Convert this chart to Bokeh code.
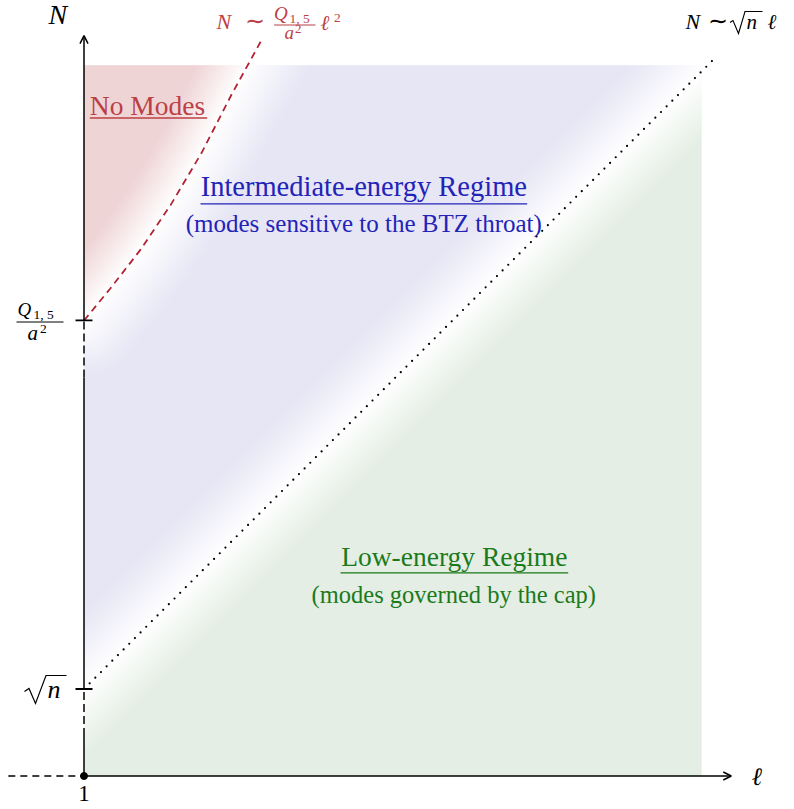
import numpy as np
from bokeh.plotting import figure
from bokeh.models import Range1d, Arrow, OpenHead
from bokeh.core.properties import value
from bokeh.embed import file_html
from bokeh.resources import INLINE

# ---------------- data (schematic units: ell horizontal, N vertical) ----------------
ell_axis = [1.0, 8.44]          # ell-axis, from ell = 1 to the arrow tip
N_axis = [0.0, 8.51]            # N-axis, up to the arrow tip
ell_left_dash = [0.13, 1.0]     # dashed continuation of the ell-axis to the left
tick_N = [1.0, 5.236]           # sqrt(n) and Q_{1,5}/a^2
axis_dash_N = [[0.46, 1.0], [4.58, 5.236]]   # dashed pieces of the N-axis below each tick
box_ell = [1.0, 8.10]           # shaded domain
box_N = [0.0, 8.17]
line_ell = [1.0, 8.28]          # N ~ sqrt(n) ell
line_N = [1.0, 8.28]
curve_ell = [1.0, 1.30, 1.65, 2.00, 2.35, 2.70, 3.03]   # N ~ Q/a^2 ell^2
curve_N = [5.236, 5.60, 6.05, 6.57, 7.16, 7.84, 8.44]

RED_FILL = (239, 212, 214)
BLUE_FILL = (230, 230, 245)
GREEN_FILL = (228, 238, 228)
RED_LINE = "#B22234"
RED_TXT = "#BC3F45"
BLUE_TXT = "#2323B8"
GREEN_TXT = "#1B7A1B"

# ---------------- page-pixel helpers (layout only) ----------------
S = 87.0
OX, OY = 83.5, 775.5


def X(px):
    return 1 + (px - OX) / S


def Y(py):
    return (OY - py) / S


W, H = 790, 806
p = figure(width=W, height=H, output_backend="svg", toolbar_location=None,
           x_range=Range1d(X(0), X(W)), y_range=Range1d(Y(H), Y(0)),
           x_axis_type=None, y_axis_type=None, min_border=0,
           min_border_left=0, min_border_right=0, min_border_top=0, min_border_bottom=0)
p.outline_line_color = None
p.background_fill_color = "white"
p.border_fill_color = "white"

# ---------------- shading ----------------
nx = int(round((box_ell[1] - box_ell[0]) * S))
ny = int(round((box_N[1] - box_N[0]) * S))
gx = box_ell[0] + (np.arange(nx) + 0.5) / S
gy = box_N[0] + (np.arange(ny) + 0.5) / S
LL, NN = np.meshgrid(gx, gy)

x0, x1 = line_ell
y0, y1 = line_N
dx, dy = x1 - x0, y1 - y0
d_line = ((LL - x0) * (-dy) + (NN - y0) * dx) / np.hypot(dx, dy) * S

cx = np.array(curve_ell)
cy = np.array(curve_N)
d_curve = np.full(LL.shape, np.inf)
for k in range(len(cx) - 1):
    ax_, ay_ = cx[k], cy[k]
    vx, vy = cx[k + 1] - ax_, cy[k + 1] - ay_
    t = np.clip(((LL - ax_) * vx + (NN - ay_) * vy) / (vx * vx + vy * vy), 0, 1)
    d_curve = np.minimum(d_curve, np.hypot(LL - ax_ - t * vx, NN - ay_ - t * vy))
d_curve *= S
left_of_curve = (NN >= cy[0]) & (LL < np.interp(NN, cy, cx))


def blend(c, t):
    return 255.0 + (np.array(c, dtype=float) - 255.0) * t[..., None]


t_g = np.clip(-d_line / 50.0, 0, 1)
t_b = np.minimum(np.clip(d_line / 55.0, 0, 1), np.clip(d_curve / 56.0, 0, 1))
t_r = np.clip(d_curve / 45.0, 0, 1)
rgb = np.where((d_line < 0)[..., None], blend(GREEN_FILL, t_g),
               np.where(left_of_curve[..., None], blend(RED_FILL, t_r), blend(BLUE_FILL, t_b)))
img = np.empty((ny, nx), dtype=np.uint32)
view = img.view(dtype=np.uint8).reshape((ny, nx, 4))
view[..., 0] = rgb[..., 0].round().astype(np.uint8)
view[..., 1] = rgb[..., 1].round().astype(np.uint8)
view[..., 2] = rgb[..., 2].round().astype(np.uint8)
view[..., 3] = 255
p.image_rgba(image=[img], x=box_ell[0], y=box_N[0],
             dw=box_ell[1] - box_ell[0], dh=box_N[1] - box_N[0])

# ---------------- curves ----------------
p.line(line_ell, line_N, line_color="black", line_width=2.2, line_dash="0 8", line_cap="round")
p.line(curve_ell, curve_N, line_color=RED_LINE, line_width=1.8, line_dash="7 5")

# ---------------- axes ----------------
AX_W = 1.5
solid_pieces = [[N_axis[0], axis_dash_N[0][0]], [axis_dash_N[0][1], axis_dash_N[1][0]]]
for a, b in solid_pieces:
    p.line([1.0, 1.0], [a, b], line_color="black", line_width=AX_W)
for a, b in axis_dash_N:
    p.line([1.0, 1.0], [a, b], line_color="black", line_width=AX_W, line_dash="8 4")
p.add_layout(Arrow(end=OpenHead(size=8, line_width=AX_W, line_color="black"),
                   x_start=1.0, y_start=tick_N[1], x_end=1.0, y_end=N_axis[1],
                   line_width=AX_W, line_color="black"))
p.add_layout(Arrow(end=OpenHead(size=8, line_width=AX_W, line_color="black"),
                   x_start=ell_axis[0], y_start=0.0, x_end=ell_axis[1], y_end=0.0,
                   line_width=AX_W, line_color="black"))
p.line(ell_left_dash, [0.0, 0.0], line_color="black", line_width=AX_W, line_dash="7 5")
p.scatter([1.0], [0.0], size=7, color="black")
half = 8.5 / S
p.segment(x0=[1.0 - half] * 2, y0=tick_N, x1=[1.0 + half] * 2, y1=tick_N,
          line_color="black", line_width=1.8)

FONT = value("Liberation Serif")
BASE_K = 0.32   # Bokeh draws the text this fraction of its size below the requested baseline


def txt(px, py, s, size, color="black", align="left", style="normal"):
    p.text(x=[X(px)], y=[Y(py - BASE_K * size)], text=[s], text_font=FONT,
           text_font_size=f"{size}px", text_color=color, text_align=align,
           text_baseline="alphabetic", text_font_style=style)


def hline(pxa, pxb, py, color, w=1.3):
    p.segment(x0=[X(pxa)], y0=[Y(py)], x1=[X(pxb)], y1=[Y(py)], line_color=color, line_width=w)


def radical(pts, color="black", w=1.2):
    p.line([X(a) for a, _ in pts], [Y(b) for _, b in pts], line_color=color, line_width=w,
           line_join="miter")


# axis labels
txt(48, 23, "N", 28, style="italic")
txt(751, 784, "ℓ", 25, style="italic")
txt(OX, 800, "1", 23, align="center")

# sqrt(n) tick label
radical([(24, 691), (28.5, 688), (35, 703), (45.5, 675), (66, 675)])
txt(47, 697, "n", 26, style="italic")

# Q_{1,5}/a^2 tick label
txt(17, 315, "Q", 19, style="italic")
txt(33, 318, "1, 5", 13.5)
hline(16, 63, 321.5, "black", 1.0)
txt(27, 339, "a", 21, style="italic")
txt(39.5, 333, "2", 13.5)

# top-left red curve label
txt(216, 28, "N", 22, RED_TXT, style="italic")
txt(244, 28.5, "∼", 24, RED_TXT)
txt(273.6, 19, "Q", 19, RED_TXT, style="italic")
txt(289, 22, "1, 5", 13.5, RED_TXT)
hline(273.6, 315, 24.5, RED_TXT, 1.0)
txt(284, 37.7, "a", 19, RED_TXT, style="italic")
txt(294.5, 33, "2", 13, RED_TXT)
txt(320, 29, "ℓ", 21, RED_TXT, style="italic")
txt(333.5, 22, "2", 13.5, RED_TXT)

# top-right line label
txt(685, 28, "N", 22, style="italic")
txt(707, 28.5, "∼", 24)
radical([(729.5, 22), (732.5, 20), (738, 33), (744.5, 11), (762, 11)], w=1.1)
txt(746, 28, "n", 21, style="italic")
txt(767, 28, "ℓ", 21, style="italic")

# region labels
txt(89.3, 113.3, "No Modes", 27.5, RED_TXT)
hline(89.3, 206.7, 117.5, RED_TXT)
txt(363.3, 195, "Intermediate-energy Regime", 28.5, BLUE_TXT, align="center")
hline(200, 526.7, 203.3, BLUE_TXT)
txt(363.3, 231, "(modes sensitive to the BTZ throat)", 25, BLUE_TXT, align="center")
txt(453.8, 565, "Low-energy Regime", 27.5, GREEN_TXT, align="center")
hline(340, 567.7, 572.3, GREEN_TXT)
txt(453.3, 601.5, "(modes governed by the cap)", 24.5, GREEN_TXT, align="center")

open("out.html", "w").write(file_html(p, INLINE))
